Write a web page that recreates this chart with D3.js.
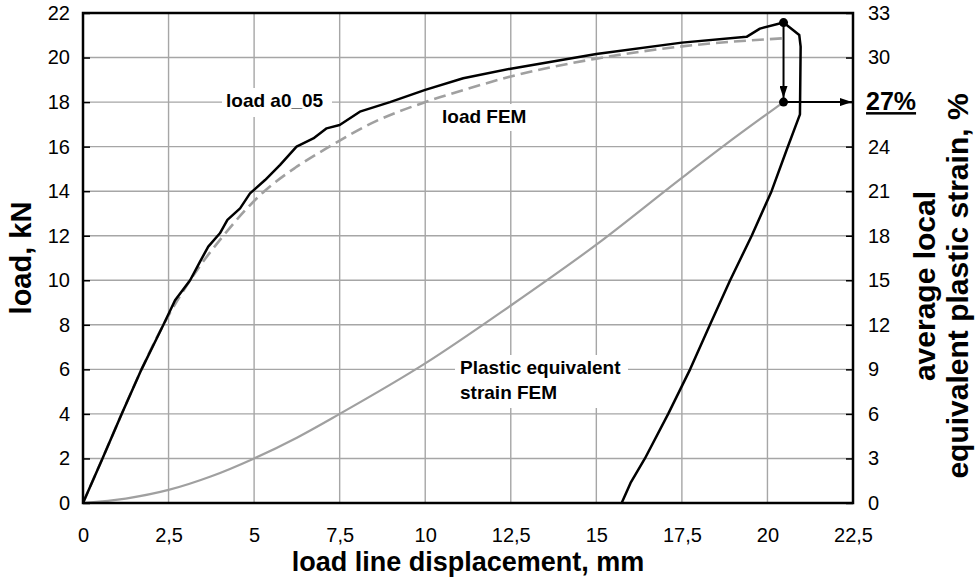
<!DOCTYPE html>
<html>
<head>
<meta charset="utf-8">
<script src="https://cdn.jsdelivr.net/npm/d3@7"></script>
<style>
  body { margin: 0; background: white; }
  text { font-family: "Liberation Sans", Arial, sans-serif; }
</style>
</head>
<body>
<div id="container"></div>
<script>
// measured load, kN vs load line displacement, mm (loading, peak, unloading)
const loadTest = [
  [0, 0], [0.57, 2], [1.13, 4], [1.71, 6], [2.35, 8], [2.69, 9.1], [3.13, 10],
  [3.42, 10.84], [3.66, 11.51], [4.0, 12.11], [4.22, 12.71], [4.59, 13.23],
  [4.88, 13.9], [5.32, 14.5], [5.76, 15.18], [6.24, 16], [6.73, 16.37],
  [7.12, 16.82], [7.5, 16.97], [8.09, 17.57], [8.97, 18], [10, 18.55],
  [11.11, 19.07], [12.5, 19.5], [15, 20.16], [17.5, 20.67], [19.39, 20.93],
  [19.78, 21.3], [20.47, 21.57], [20.93, 21.01], [20.97, 20.49], [20.95, 17.45],
  [20.56, 15.85], [20.12, 14], [19.54, 12], [18.91, 10], [18.32, 8],
  [17.74, 6], [17.1, 4], [16.42, 2], [16.0, 0.9], [15.74, 0]
]
// FEM load, kN
const loadFem = [
  [0, 0], [0.57, 2], [1.13, 4], [1.71, 6], [2.35, 8], [3.13, 10], [4.1, 12],
  [5.3, 14], [6.2, 15.05], [7.2, 16], [8.5, 17.1], [10, 18.0], [11.25, 18.6],
  [12.5, 19.15], [15, 19.95], [17.5, 20.5], [20.5, 20.87]
]
// FEM average local equivalent plastic strain, %
const strainFem = [
  [0, 0], [1.25, 0.3], [2.5, 0.88], [3.75, 1.8], [5, 3.0], [6.25, 4.4],
  [7.5, 6], [10, 9.4], [12.5, 13.3], [15, 17.4], [17.5, 21.9], [18.75, 24.1],
  [20.47, 27]
]
const peak = [20.47, 21.57]
const strainAtPeak = 27

const xTicks = [0, 2.5, 5, 7.5, 10, 12.5, 15, 17.5, 20, 22.5]
const yTicks = [0, 2, 4, 6, 8, 10, 12, 14, 16, 18, 20, 22]
const y2Ticks = [0, 3, 6, 9, 12, 15, 18, 21, 24, 27, 30, 33]

const w = 975
const h = 588
const pLeft = 83, pRight = 853, pTop = 13, pBottom = 503

const svg = d3.select('#container')
  .append('svg')
    .attr('width', w)
    .attr('height', h)
    .style('background', 'white')

const x = d3.scaleLinear().domain([0, 22.5]).range([pLeft, pRight])
const y = d3.scaleLinear().domain([0, 22]).range([pBottom, pTop])
const y2 = d3.scaleLinear().domain([0, 33]).range([pBottom, pTop])

const comma = d => String(d).replace('.', ',')

// grid
const grid = svg.append('g').attr('stroke', '#a6a6a6').attr('stroke-width', 1.4)
grid.selectAll('.gx')
  .data(xTicks)
  .enter()
  .append('line')
    .attr('x1', d => x(d)).attr('x2', d => x(d))
    .attr('y1', pTop).attr('y2', pBottom)
grid.selectAll('.gy')
  .data(yTicks)
  .enter()
  .append('line')
    .attr('x1', pLeft).attr('x2', pRight)
    .attr('y1', d => y(d)).attr('y2', d => y(d))

// axes
const tickFont = g => g.selectAll('text').attr('font-size', 20).attr('fill', '#000')

svg.append('g')
  .attr('transform', `translate(0, ${pBottom})`)
  .call(d3.axisBottom(x).tickValues(xTicks).tickSize(0).tickPadding(25).tickFormat(comma))
  .call(g => g.select('.domain').remove())
  .call(tickFont)

svg.append('g')
  .attr('transform', `translate(${pLeft}, 0)`)
  .call(d3.axisLeft(y).tickValues(yTicks).tickSizeInner(-7).tickSizeOuter(0).tickPadding(13))
  .call(g => g.select('.domain').remove())
  .call(g => g.selectAll('line').attr('stroke-width', 1.5))
  .call(tickFont)

svg.append('g')
  .attr('transform', `translate(${pRight}, 0)`)
  .call(d3.axisRight(y2).tickValues(y2Ticks).tickSizeInner(-7).tickSizeOuter(0).tickPadding(15)
    .tickFormat(d => d === strainAtPeak ? '' : d))
  .call(g => g.select('.domain').remove())
  .call(g => g.selectAll('line').attr('stroke-width', 1.5))
  .call(tickFont)

// labels with white background
const label = (lines, lx, ly, box) => {
  svg.append('rect')
    .attr('x', box[0]).attr('y', box[1])
    .attr('width', box[2]).attr('height', box[3])
    .attr('fill', 'white')
  const t = svg.append('text')
    .attr('x', lx).attr('y', ly)
    .attr('font-size', 19).attr('font-weight', 'bold')
  lines.forEach((s, i) => {
    t.append('tspan').attr('x', lx).attr('dy', i ? 24.5 : 0).text(s)
  })
}
label(['load a0_05'], 226, 107, [222, 88, 110, 29])
label(['load FEM'], 442, 123, [436, 104, 100, 27])
label(['Plastic equivalent', 'strain FEM'], 460, 374, [455, 355, 173, 53])

// curves
const line = d3.line().x(d => x(d[0])).y(d => y(d[1]))
const smooth = d3.line().x(d => x(d[0])).y(d => y(d[1])).curve(d3.curveMonotoneX)
const smooth2 = d3.line().x(d => x(d[0])).y(d => y2(d[1])).curve(d3.curveMonotoneX)

svg.append('path')
  .attr('d', smooth2(strainFem))
  .attr('fill', 'none')
  .attr('stroke', '#a0a0a0')
  .attr('stroke-width', 2.2)

svg.append('path')
  .attr('d', smooth(loadFem))
  .attr('fill', 'none')
  .attr('stroke', '#a0a0a0')
  .attr('stroke-width', 2.6)
  .attr('stroke-dasharray', '12,6')

svg.append('path')
  .attr('d', line(loadTest))
  .attr('fill', 'none')
  .attr('stroke', '#000')
  .attr('stroke-width', 2.5)
  .attr('stroke-linejoin', 'round')

// arrows
svg.append('defs').append('marker')
    .attr('id', 'head')
    .attr('viewBox', '0 0 12 8')
    .attr('refX', 12).attr('refY', 4)
    .attr('markerWidth', 13).attr('markerHeight', 8)
    .attr('markerUnits', 'userSpaceOnUse')
    .attr('orient', 'auto')
  .append('path')
    .attr('d', 'M0,0L12,4L0,8Z')
    .attr('fill', '#000')

svg.append('line')
  .attr('x1', x(peak[0])).attr('y1', y(peak[1]))
  .attr('x2', x(peak[0])).attr('y2', y2(strainAtPeak) - 4)
  .attr('stroke', '#000').attr('stroke-width', 2)
  .attr('marker-end', 'url(#head)')

svg.append('line')
  .attr('x1', x(peak[0])).attr('y1', y2(strainAtPeak))
  .attr('x2', pRight - 1).attr('y2', y2(strainAtPeak))
  .attr('stroke', '#000').attr('stroke-width', 2)
  .attr('marker-end', 'url(#head)')

svg.selectAll('.dot')
  .data([[peak[0], y(peak[1])], [peak[0], y2(strainAtPeak)]])
  .enter()
  .append('circle')
    .attr('cx', d => x(d[0]))
    .attr('cy', d => d[1])
    .attr('r', 4.5)
    .attr('fill', '#000')

// frame
svg.append('rect')
  .attr('x', pLeft).attr('y', pTop)
  .attr('width', pRight - pLeft).attr('height', pBottom - pTop)
  .attr('fill', 'none')
  .attr('stroke', '#000')
  .attr('stroke-width', 2.5)

// 27% mark
svg.append('text')
  .attr('x', 866).attr('y', y2(strainAtPeak) + 8)
  .attr('font-size', 25).attr('font-weight', 'bold')
  .attr('text-decoration', 'underline')
  .text(strainAtPeak + '%')

// axis titles
svg.append('text')
  .attr('x', (pLeft + pRight) / 2).attr('y', 571)
  .attr('text-anchor', 'middle')
  .attr('font-size', 27).attr('font-weight', 'bold')
  .text('load line displacement, mm')

svg.append('text')
  .attr('transform', `translate(31, ${(pTop + pBottom) / 2}) rotate(-90)`)
  .attr('text-anchor', 'middle')
  .attr('font-size', 29).attr('font-weight', 'bold')
  .text('load, kN')

const rt = svg.append('text')
  .attr('transform', `translate(935, 286) rotate(-90)`)
  .attr('text-anchor', 'middle')
  .attr('font-size', 30).attr('font-weight', 'bold')
rt.append('tspan').attr('x', 0).attr('dy', 0).text('average local')
rt.append('tspan').attr('x', 0).attr('dy', 33).text('equivalent plastic strain, %')
</script>
</body>
</html>
